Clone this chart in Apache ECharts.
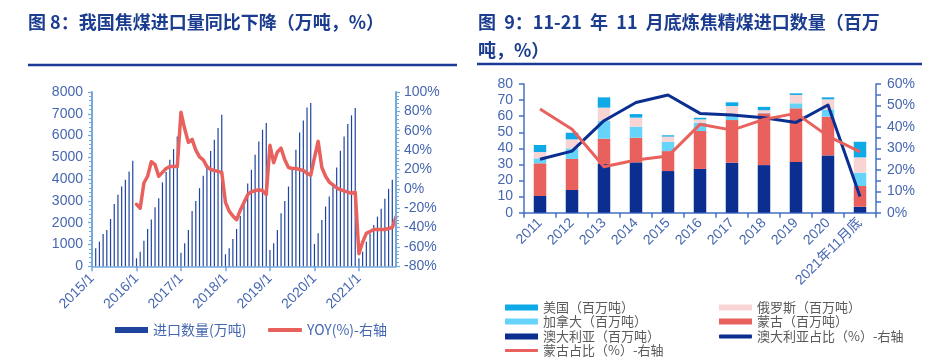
<!DOCTYPE html>
<html><head><meta charset="utf-8">
<script src="https://cdn.jsdelivr.net/npm/echarts@6/dist/echarts.min.js"></script>
<style>html,body{margin:0;padding:0;background:#fff}#c{width:947px;height:361px}</style>
</head><body><div id="c"></div>
<script>
// ---------- Left chart: monthly cumulative coking-coal imports (万吨) ----------
const years = ['2015', '2016', '2017', '2018', '2019', '2020', '2021'];
const monthsShown2021 = 11; // axis runs to 2021/11
const imports2015 = [450, 830, 1130, 1480, 1670, 2170, 2860, 3280, 3660, 3970, 4350, 4840];
const imports2016 = [368, 671, 1177, 1715, 2143, 2713, 3127, 3850, 4330, 4890, 5380, 5960];
const imports2017 = [626, 1057, 1669, 2543, 3002, 3586, 4152, 4612, 5287, 5807, 6345, 6957];
const imports2018 = [552, 828, 1255, 1715, 2313, 3000, 3800, 4428, 5118, 5729, 6267, 6575];
const imports2019 = [750, 1057, 1669, 2437, 3002, 3661, 4474, 5348, 6143, 6695, 7293, 7495];
const imports2020 = [1025, 1517, 2129, 2742, 3202, 3770, 4535, 5303, 5960, 6529, 6926, 7264];
const imports2021 = [368, 671, 1131, 1500, 1900, 2282, 2636, 3095, 3555, 3970, null];
// YOY (%) right axis, starts 2016/1
const yoy2016 = [-16, -20, 6, 13, 28, 25, 13, 17, 21, 23, 23, 23];
const yoy2017 = [79, 62, 48, 51, 40, 33, 30, 23, 20, 19, 18, 17];
const yoy2018 = [-14, -23, -28, -32, -22, -14, -6, -3, -2, -1, -2, -6];
const yoy2019 = [45, 27, 38, 42, 30, 22, 21, 21, 20, 19, 16, 14];
const yoy2020 = [32, 49, 22, 13, 7, 4, 1, -1, -2, -3.5, -4.5, -3.5];
const yoy2021 = [-67, -55, -46, -44, -42, -42, -42, -42, -41, -40, -29];

// ---------- Right chart: coking coal imports by origin (百万吨) ----------
const originCats = ['2011', '2012', '2013', '2014', '2015', '2016', '2017', '2018', '2019', '2020', '2021年11月底'];
const australia = [10.4, 14.1, 30.3, 31.3, 25.9, 27.2, 31.1, 29.6, 31.5, 35.6, 3.7];
const mongolia  = [20.3, 19.3, 15.7, 15.3, 12.4, 23.6, 26.5, 32.2, 33.4, 24.1, 12.9];
const canada    = [3.1, 6.6, 11.2, 6.9, 5.8, 5.2, 3.1, 0.3, 3.1, 4.5, 8.3];
const russia    = [3.9, 5.6, 8.1, 5.6, 3.2, 2.0, 5.6, 1.6, 5.2, 6.3, 9.5];
const usa       = [4.4, 4.1, 6.4, 2.2, 0.8, 1.0, 2.3, 2.1, 1.0, 1.2, 9.7];
const ausShare  = [24.9, 28.7, 42.9, 51.4, 54.9, 46.3, 45.5, 44.3, 42.1, 50.2, 7.5];
const mongShare = [48.3, 38.9, 21.4, 24.6, 26.4, 41.2, 38.5, 43.5, 46.3, 35.7, 28.4];

// ---------- build ----------
const monthCats = [];
years.forEach(function (y, i) {
  const n = (i === years.length - 1) ? monthsShown2021 : 12;
  for (let m = 1; m <= n; m++) monthCats.push(y + '/' + m);
});
const importVolume = [].concat(imports2015, imports2016, imports2017, imports2018, imports2019, imports2020, imports2021);
const yoy = new Array(12).fill(null).concat(yoy2016, yoy2017, yoy2018, yoy2019, yoy2020, yoy2021);

const FONT = '"Liberation Sans", Arial, "Noto Sans CJK SC", sans-serif';
const CJK = '"Noto Sans CJK SC", "Liberation Sans", sans-serif';
const LBL = '#4667b0';
const AX1 = '#74a9dc';
const AX2 = '#4472c4';
const C_DB = '#0b2f91', C_RED = '#e8615c', C_LB = '#66d3fa', C_PINK = '#f9d4d4', C_USA = '#0eaae8';

function legendItem(name, left, top, w, h, icon, color, size) {
  return {
    data: [name], left: left, top: top, itemWidth: w, itemHeight: h, icon: icon,
    selectedMode: false, padding: 0, itemGap: 0,
    textStyle: { color: color, fontSize: size, fontFamily: CJK, padding: [0, 0, 0, 0] }
  };
}

const chart = echarts.init(document.getElementById('c'), null, { renderer: 'canvas' });
chart.setOption({
  animation: false,
  textStyle: { fontFamily: FONT },
  graphic: [
    { type: 'text', left: 28, top: 13, style: { text: '图 8：我国焦煤进口量同比下降（万吨，%）', font: 'bold 18px ' + CJK, fill: '#1b3c8f' } },
    { type: 'line', shape: { x1: 28, y1: 65, x2: 457, y2: 65 }, style: { stroke: '#1a3a96', lineWidth: 2.5 } },
    { type: 'text', left: 478, top: 13, style: { text: '图  9：11-21  年  11  月底炼焦精煤进口数量（百万', font: 'bold 18px ' + CJK, fill: '#1b3c8f' } },
    { type: 'text', left: 478, top: 41, style: { text: '吨，%）', font: 'bold 18px ' + CJK, fill: '#1b3c8f' } },
    { type: 'line', shape: { x1: 477, y1: 64, x2: 922, y2: 64 }, style: { stroke: '#1a3a96', lineWidth: 2.5 } }
  ],
  legend: [
    legendItem('进口数量(万吨)', 115, 323, 33, 6, 'rect', LBL, 14),
    legendItem('YOY(%)-右轴', 268, 323, 34, 4, 'roundRect', LBL, 14),
    legendItem('美国（百万吨）', 505, 301, 33, 6, 'rect', '#595959', 13),
    legendItem('俄罗斯（百万吨）', 719, 301, 33, 6, 'rect', '#595959', 13),
    legendItem('加拿大（百万吨）', 505, 315, 33, 6, 'rect', '#595959', 13),
    legendItem('蒙古（百万吨）', 719, 315, 33, 6, 'rect', '#595959', 13),
    legendItem('澳大利亚（百万吨）', 505, 330, 33, 6, 'rect', '#595959', 13),
    legendItem('澳大利亚占比（%）-右轴', 719, 330, 33, 4, 'roundRect', '#595959', 13),
    legendItem('蒙古占比（%）-右轴', 505, 344, 33, 3, 'roundRect', '#595959', 13)
  ],
  grid: [
    { left: 92, top: 92, width: 304, height: 174.3, containLabel: false },
    { left: 524, top: 84, width: 352, height: 128.7, containLabel: false }
  ],
  xAxis: [
    {
      type: 'category', gridIndex: 0, data: monthCats, boundaryGap: false,
      axisLine: { lineStyle: { color: AX1, width: 1.5 } },
      axisTick: { show: true, interval: 11, length: 5, lineStyle: { color: AX1, width: 1.5 } },
      axisLabel: { interval: 11, rotate: 45, fontSize: 14, color: LBL, margin: 10, fontFamily: FONT },
      splitLine: { show: false }
    },
    {
      type: 'category', gridIndex: 1, data: originCats,
      axisLine: { lineStyle: { color: AX2, width: 1.5 } },
      axisTick: { show: true, length: 5, lineStyle: { color: AX2, width: 1.5 } },
      axisLabel: { interval: 0, rotate: 45, fontSize: 14, color: LBL, margin: 8, fontFamily: FONT },
      splitLine: { show: false }
    }
  ],
  yAxis: [
    {
      type: 'value', gridIndex: 0, min: 0, max: 8000, interval: 1000, position: 'left', z: 5,
      axisLine: { show: true, lineStyle: { color: AX1, width: 2 } },
      axisTick: { show: true, length: 4, lineStyle: { color: AX1, width: 1.2 } },
      minorTick: { show: true, splitNumber: 5, length: 3, lineStyle: { color: AX1, width: 1 } },
      axisLabel: { fontSize: 14, color: LBL, margin: 9, formatter: function (v) { return String(v); } },
      splitLine: { show: false }
    },
    {
      type: 'value', gridIndex: 0, min: -80, max: 100, interval: 20, position: 'right', z: 5,
      axisLine: { show: true, lineStyle: { color: AX1, width: 2 } },
      axisTick: { show: true, length: 4, lineStyle: { color: AX1, width: 1.2 } },
      minorTick: { show: true, splitNumber: 5, length: 3, lineStyle: { color: AX1, width: 1 } },
      axisLabel: { fontSize: 14, color: LBL, margin: 8, formatter: '{value}%' },
      splitLine: { show: false }
    },
    {
      type: 'value', gridIndex: 1, min: 0, max: 80, interval: 10, position: 'left',
      axisLine: { show: true, lineStyle: { color: AX2, width: 1.5 } },
      axisTick: { show: true, length: 5, lineStyle: { color: AX2, width: 1.5 } },
      axisLabel: { fontSize: 14, color: LBL, margin: 11 },
      splitLine: { show: false }
    },
    {
      type: 'value', gridIndex: 1, min: 0, max: 60, interval: 10, position: 'right',
      axisLine: { show: true, lineStyle: { color: AX2, width: 1.5 } },
      axisTick: { show: true, length: 5, lineStyle: { color: AX2, width: 1.5 } },
      minorTick: { show: true, splitNumber: 2, length: 5, lineStyle: { color: AX2, width: 1.5 } },
      axisLabel: { fontSize: 14, color: LBL, margin: 11, formatter: '{value}%' },
      splitLine: { show: false }
    }
  ],
  series: [
    { name: '进口数量(万吨)', type: 'bar', xAxisIndex: 0, yAxisIndex: 0, data: importVolume, barWidth: 1.2, itemStyle: { color: '#1f44a0' } },
    { name: 'YOY(%)-右轴', type: 'line', xAxisIndex: 0, yAxisIndex: 1, data: yoy, symbol: 'none', z: 4,
      lineStyle: { color: C_RED, width: 3.5, join: 'round', cap: 'round' }, itemStyle: { color: C_RED } },

    { name: '澳大利亚（百万吨）', type: 'bar', stack: 'o', xAxisIndex: 1, yAxisIndex: 2, data: australia, barWidth: 12.5, itemStyle: { color: C_DB } },
    { name: '蒙古（百万吨）', type: 'bar', stack: 'o', xAxisIndex: 1, yAxisIndex: 2, data: mongolia, barWidth: 12.5, itemStyle: { color: C_RED } },
    { name: '加拿大（百万吨）', type: 'bar', stack: 'o', xAxisIndex: 1, yAxisIndex: 2, data: canada, barWidth: 12.5, itemStyle: { color: C_LB } },
    { name: '俄罗斯（百万吨）', type: 'bar', stack: 'o', xAxisIndex: 1, yAxisIndex: 2, data: russia, barWidth: 12.5, itemStyle: { color: C_PINK } },
    { name: '美国（百万吨）', type: 'bar', stack: 'o', xAxisIndex: 1, yAxisIndex: 2, data: usa, barWidth: 12.5, itemStyle: { color: C_USA } },
    { name: '澳大利亚占比（%）-右轴', type: 'line', xAxisIndex: 1, yAxisIndex: 3, data: ausShare, symbol: 'none', z: 4,
      lineStyle: { color: C_DB, width: 3, join: 'round' }, itemStyle: { color: C_DB } },
    { name: '蒙古占比（%）-右轴', type: 'line', xAxisIndex: 1, yAxisIndex: 3, data: mongShare, symbol: 'none', z: 4,
      lineStyle: { color: C_RED, width: 3, join: 'round' }, itemStyle: { color: C_RED } }
  ]
});
</script>
</body></html>
